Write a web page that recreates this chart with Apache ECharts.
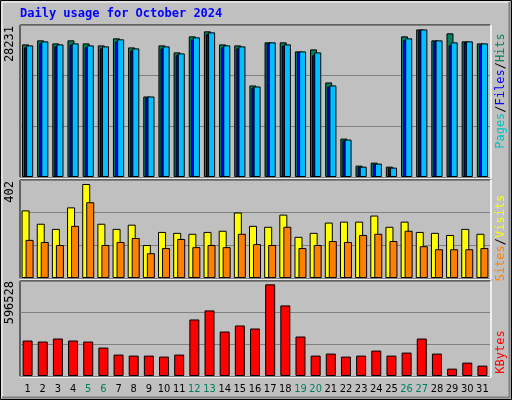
<!DOCTYPE html>
<html><head><meta charset="utf-8">
<script src="https://cdn.jsdelivr.net/npm/echarts@6/dist/echarts.min.js"></script>
<style>html,body{margin:0;padding:0;background:#c0c0c0}#c{width:512px;height:400px}</style>
</head><body><div id="c"></div>
<script>
const days = ['1','2','3','4','5','6','7','8','9','10','11','12','13','14','15','16','17','18','19','20','21','22','23','24','25','26','27','28','29','30','31'];
const weekend = ['5','6','12','13','19','20','26','27'];
const hits = [25368,26135,25560,26135,25560,25177,26519,24793,15400,25177,23835,26902,27860,25368,25177,17509,25752,25752,24026,24410,18084,7349,2173,2748,1981,26902,28231,26135,27477,25943,25560];
const files = [24800,25600,25000,25300,24800,24600,25900,24200,15200,24600,23300,26300,27300,24800,24600,17100,25600,25100,23900,23300,17300,7000,1900,2450,1750,26200,28100,26000,25200,25800,25300];
const pages = [25177,25943,25368,25560,25177,24985,26327,24602,15400,24985,23643,26710,27669,25177,24985,17317,25752,25368,24026,23835,17509,7157,1981,2556,1789,26519,28231,26135,25752,25943,25560];
const visits = [289,232,210,302,402,232,210,228,141,197,193,189,197,202,280,223,219,271,176,193,237,241,241,267,219,241,197,193,184,210,189];
const sites = [163,154,141,223,324,141,154,171,106,128,167,132,141,132,189,145,141,219,128,141,158,154,184,189,158,202,136,123,123,123,128];
const kbytes = [230762,224231,243824,230762,224231,185045,139328,132797,132797,126266,139328,367913,426692,289541,328727,309134,596528,459347,256886,132797,145859,126266,132797,165452,132797,152390,243824,145859,47894,87080,67487];
const maxLabels = ['28231','402','596528'];

const M = [29075, 419, 618268];
const chart = echarts.init(document.getElementById('c'));
const grids = [{left:20,width:470,top:25,height:152},{left:20,width:470,top:180,height:98},{left:20,width:470,top:281,height:95}];
const mono = 'DejaVu Sans Mono';
const lf = '"DejaVu Sans Condensed","Liberation Sans Narrow","DejaVu Sans"';
function xa(i){return {type:'category',gridIndex:i,data:days,axisLine:{show:false},axisTick:{show:false},
  axisLabel:i<2?{show:false}:{interval:0,fontFamily:lf,fontSize:11,margin:8,formatter:v=>weekend.includes(v)?'{g|'+v+'}':'{k|'+v+'}',rich:{g:{color:'#00805c',fontFamily:lf,fontSize:11},k:{color:'#000',fontFamily:lf,fontSize:11}}}};}
function ya(i){return {type:'value',gridIndex:i,min:0,max:M[i],interval:M[i]/3,axisLabel:{show:false},axisLine:{show:false},axisTick:{show:false},splitLine:{lineStyle:{color:'#808080',width:1}}};}
const bs = {borderColor:'#000',borderWidth:1};
function bar(name,data,i,color,w,gap){return {type:'bar',name,data,xAxisIndex:i,yAxisIndex:i,barWidth:w,barGap:gap,itemStyle:Object.assign({color},bs),animation:false};}
function panelLines(g){const x1=g.left,x2=g.left+g.width,y1=g.top,y2=g.top+g.height;
  return [{type:'line',shape:{x1:x1,y1:y1,x2:x2,y2:y1},style:{stroke:'#000',lineWidth:1}},
   {type:'line',shape:{x1:x1,y1:y1,x2:x1,y2:y2},style:{stroke:'#000',lineWidth:1}},
   {type:'line',shape:{x1:x1,y1:y2+1,x2:x2+1,y2:y2+1},style:{stroke:'#fff',lineWidth:1.5}},
   {type:'line',shape:{x1:x2+1,y1:y1,x2:x2+1,y2:y2+1},style:{stroke:'#fff',lineWidth:1.5}}];}
function rot(text,x,y,rich){return {type:'text',x,y,rotation:Math.PI/2,style:{text,rich,font:'12px '+mono,fill:'#000',align:'center',verticalAlign:'middle'}};}
const f12='12px '+mono;
chart.setOption({
  backgroundColor:'#c0c0c0',animation:false,
  grid:grids,
  xAxis:[xa(0),xa(1),xa(2)],
  yAxis:[ya(0),ya(1),ya(2)],
  series:[
    bar('Hits',hits,0,'#00805c',7,'-70%'),
    bar('Files',files,0,'#0000ff',7,'-70%'),
    bar('Pages',pages,0,'#00c0ff',7,'-70%'),
    bar('Visits',visits,1,'#ffff00',8,'-50%'),
    bar('Sites',sites,1,'#ff8000',8,'-50%'),
    bar('KBytes',kbytes,2,'#ff0000',10,'0%')
  ],
  graphic:[
    {type:'rect',shape:{x:0.5,y:0.5,width:511,height:399},style:{fill:null,stroke:'#000',lineWidth:1},z:100},
    {type:'line',shape:{x1:2,y1:2,x2:509,y2:2},style:{stroke:'#fff',lineWidth:1}},
    {type:'line',shape:{x1:2,y1:2,x2:2,y2:397},style:{stroke:'#fff',lineWidth:1}},
    {type:'line',shape:{x1:2,y1:397.5,x2:510,y2:397.5},style:{stroke:'#808080',lineWidth:2}},
    {type:'line',shape:{x1:509.5,y1:2,x2:509.5,y2:398},style:{stroke:'#808080',lineWidth:2}},
    {type:'text',left:20,top:8,style:{text:'Daily usage for October 2024',font:'bold 12px '+mono,fill:'#0000ff'}},
    ...panelLines(grids[0]),...panelLines(grids[1]),...panelLines(grids[2]),
    {type:'text',x:10,y:26,rotation:Math.PI/2,style:{text:maxLabels[0],font:f12,fill:'#000',align:'right',verticalAlign:'middle'}},
    {type:'text',x:10,y:181,rotation:Math.PI/2,style:{text:maxLabels[1],font:f12,fill:'#000',align:'right',verticalAlign:'middle'}},
    {type:'text',x:10,y:281,rotation:Math.PI/2,style:{text:maxLabels[2],font:f12,fill:'#000',align:'right',verticalAlign:'middle'}},
    rot('{p|Pages}{k|/}{f|Files}{k|/}{h|Hits}',501,91,{p:{fill:'#00c0c0',font:f12},f:{fill:'#0000ff',font:f12},h:{fill:'#00805c',font:f12},k:{fill:'#000',font:f12}}),
    rot('{s|Sites}{k|/}{v|Visits}',501,238,{s:{fill:'#ff8000',font:f12},v:{fill:'#ffff00',font:f12},k:{fill:'#000',font:f12}}),
    rot('{r|KBytes}',501,352,{r:{fill:'#ff0000',font:f12}})
  ]
});
</script></body></html>
